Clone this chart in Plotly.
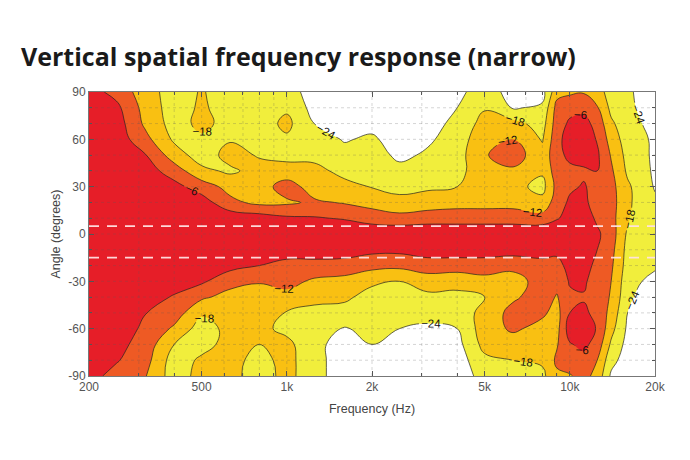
import numpy as np
import plotly.graph_objects as go

# frequency columns (Hz) and angle rows (degrees)
freqs = [200, 250, 315, 400, 500, 630, 800, 1000, 1250, 1600, 2000, 2500, 3150,
         4000, 5000, 6300, 8000, 9000, 10000, 11200, 12500, 14000, 16000, 18000, 20000]
angles = [-90, -80, -70, -60, -50, -40, -30, -20, -10, 0, 10, 20, 30, 40, 50, 60, 70, 80, 90]

# relative level (dB), one row per frequency, -90 .. +90 deg
response_db = [
    [-4, -3, -3, -2.5, -2, -2, -1.5, -1, -1, 0, -1, -1, -1, -1.5, -2, -2, -2.5, -3, -3.5],          # 200
    [-8, -5.5, -4, -3, -2.5, -2, -1.5, -1, -0.5, 0, -0.5, -1, -1, -1.5, -2, -2.5, -3, -4.5, -8],     # 250
    [-11.5, -9.5, -8.5, -7, -5.8, -3.5, -2.5, -1.5, -1, 0, -1, -1, -2, -3, -5.5, -10, -13, -14, -15],  # 315
    [-21, -21, -18, -13, -9, -6.5, -3.5, -2, -1, 0, -1, -2, -4, -9, -15, -19, -20.5, -21, -21],      # 400
    [-16, -17, -20, -21, -17, -11, -5, -2, -1, 0, -1, -3, -9, -16.5, -21, -19, -16.5, -17, -17.5],   # 500
    [-16, -16, -16, -16, -16, -14, -10, -4, -1, 0, -2, -10.5, -14, -19, -16, -18.5, -20, -21, -21],  # 630
    [-21, -20, -18, -16.5, -16, -15, -11.5, -6, -2, -0.5, -3, -13.5, -15, -16, -18.5, -20, -21, -21, -21],  # 800
    [-16, -16, -16.5, -19.5, -18.3, -14, -10, -8, -3, -1, -5, -13, -9, -16, -19.5, -19, -16.5, -19, -21],  # 1k
    [-22, -22, -22, -21, -19.5, -16.5, -13, -8, -3, -1, -5.5, -11, -15, -16, -20, -21, -24, -26, -27],  # 1.25k
    [-27, -27, -27, -24.5, -20, -17, -14, -8.5, -3, -1, -6.5, -12.5, -16, -20, -22, -24.5, -27, -28, -28],  # 1.6k
    [-27, -27, -24, -22, -21, -20, -17, -10, -4.5, -1, -9, -14, -18.3, -20, -21, -23, -26, -28, -28],  # 2k
    [-28, -28, -27, -24, -22, -20.5, -18, -10.5, -4.5, -1, -10, -16, -20, -22, -25.5, -27, -28, -28, -28],  # 2.5k
    [-28, -28, -28, -25, -22, -19.5, -15, -9, -3, -1, -9, -15, -19, -21, -23, -25, -27, -28, -28],   # 3.15k
    [-27, -27, -26, -24, -21.5, -19.5, -16, -9, -3, -1, -9, -14, -18, -20, -20.5, -21, -22, -24, -26],  # 4k
    [-22, -19.5, -16, -15, -16, -18, -14, -9, -3, -1, -9, -14, -16, -14, -12.5, -14, -16, -18.5, -20],  # 5k
    [-20, -18, -15, -11, -10, -13, -15, -10, -3.5, -1, -9, -14, -16, -13, -9, -12, -16, -24.5, -27],  # 6.3k
    [-19.5, -17, -15, -14, -11, -9, -9, -8, -3.5, -1, -9.5, -16, -20, -17, -16, -18.5, -20.5, -23, -26],  # 8k
    [-13, -11, -12.5, -14, -14, -12.5, -10, -8.5, -4, -1, -6.5, -9, -10, -9, -8, -8, -9, -10, -14],  # 9k
    [-12.5, -9, -6.5, -3, -6, -7, -5.5, -3.5, -2, -1, -4, -5, -7, -7.5, -4.5, -3, -5, -8, -13],      # 10k
    [-10, -8, -4.5, -2.5, -5, -6.5, -5, -3, -2, -1, -3, -5, -5.5, -7, -3, -2, -4, -7.5, -12.5],      # 11.2k
    [-14, -12, -8.5, -6.5, -7.5, -9, -9, -8, -6, -5, -7, -8, -8, -6, -5, -6.5, -8, -11.5, -15],      # 12.5k
    [-25, -22, -19, -16, -14, -12.5, -12, -11, -10, -9, -10, -10, -10, -11, -12.5, -14.5, -17, -19.5, -21],  # 14k
    [-27, -27, -26, -25, -24, -22.5, -21.5, -20.5, -20, -19, -17, -16, -17, -19, -20, -21, -21.5, -22, -22],  # 16k
    [-28, -28, -27, -27, -27, -26, -24, -22.5, -21, -22, -23.5, -22.5, -21, -21, -21.5, -22, -24, -25.5, -27],  # 18k
    [-27, -27, -27, -27, -27, -26, -25, -23.5, -22.5, -22, -22, -23, -24.5, -25.5, -26, -26, -27, -28, -28],  # 20k
]

levels = [-24, -18, -12, -6]
band_colors = ['#ffffff', '#f1ee3c', '#f9c012', '#ee5a24', '#e61e28']
dashed_angles = [5, -15]

x_ticks = [200, 500, 1000, 2000, 5000, 10000, 20000]
x_tick_text = ['200', '500', '1k', '2k', '5k', '10k', '20k']
x_minor = [300, 400, 600, 700, 800, 900, 3000, 4000, 6000, 7000, 8000, 9000]
y_ticks = [-90, -60, -30, 0, 30, 60, 90]
y_tick_text = ['-90', '-60', '-30', '0', '30', '60', '90']
y_minor = [-80, -70, -50, -40, -20, -10, 10, 20, 40, 50, 70, 80]

z = np.array(response_db).T

# stepwise scale, one flat colour per band (fill samples band centres)
n = len(band_colors)
scale = []
for i, c in enumerate(band_colors):
    lo = 0 if i == 0 else (i - 0.5) / (n - 1)
    hi = 1 if i == n - 1 else (i + 0.5) / (n - 1)
    scale += [[lo, c], [hi, c]]

fig = go.Figure()
fig.add_trace(go.Contour(
    x=freqs, y=angles, z=z,
    autocontour=False,
    contours=dict(start=levels[0], end=levels[-1], size=6, coloring='fill',
                  showlabels=True,
                  labelfont=dict(family='Liberation Sans', size=11.5, color='#111')),
    colorscale=scale,
    showscale=False,
    line=dict(color='#222', width=0.7, smoothing=1.2),
    hoverinfo='skip',
))

shapes = []
grid_line = dict(color='rgba(90,90,90,0.32)', width=0.8, dash='dot')
for v in x_minor + x_ticks[1:-1]:
    shapes.append(dict(type='line', xref='x', yref='paper', x0=v, x1=v, y0=0, y1=1,
                       line=grid_line, layer='above'))
for v in y_minor + y_ticks[1:-1]:
    shapes.append(dict(type='line', xref='paper', yref='y', x0=0, x1=1, y0=v, y1=v,
                       line=grid_line, layer='above'))
for a in dashed_angles:
    shapes.append(dict(type='line', xref='paper', yref='y', x0=0, x1=1, y0=a, y1=a,
                       line=dict(color='rgba(255,225,225,0.95)', width=1.8, dash='10px,8px'),
                       layer='above'))

# the page body adds an 8px offset, so margins are trimmed on the left/top
tick_font = dict(family='Liberation Sans', size=12, color='#555')
fig.update_layout(
    width=690, height=460,
    margin=dict(l=81, r=43, t=84, b=92),
    paper_bgcolor='white', plot_bgcolor='white',
    title=dict(text='<b>Vertical spatial frequency response (narrow)</b>',
               font=dict(family='Open Sans', size=25, color='#1a1a1a'),
               x=13 / 690, xanchor='left', xref='container',
               y=1 - 49 / 460, yanchor='middle', yref='container'),
    shapes=shapes,
    xaxis=dict(type='log', range=[np.log10(200), np.log10(20000)], automargin=False,
               tickvals=x_ticks, ticktext=x_tick_text, tickfont=tick_font,
               ticks='inside', ticklen=5, tickcolor='#555', mirror='ticks',
               showline=True, linecolor='#777', linewidth=1, showgrid=False,
               minor=dict(tickvals=x_minor, ticks='inside', ticklen=3, tickcolor='#555',
                          showgrid=False),
               title=dict(text='Frequency (Hz)', font=dict(family='Liberation Sans', size=12.5, color='#444'),
                          standoff=10),
               layer='above traces'),
    yaxis=dict(range=[-90, 90], automargin=False,
               tickvals=y_ticks, ticktext=y_tick_text, tickfont=tick_font,
               ticks='inside', ticklen=5, tickcolor='#555', mirror='ticks',
               showline=True, linecolor='#777', linewidth=1, showgrid=False, zeroline=False,
               minor=dict(tickvals=y_minor, ticks='inside', ticklen=3, tickcolor='#555',
                          showgrid=False),
               title=dict(text='Angle (degrees)', font=dict(family='Liberation Sans', size=12.5, color='#444'),
                          standoff=4),
               layer='above traces'),
)

fig.write_html('out.html')
